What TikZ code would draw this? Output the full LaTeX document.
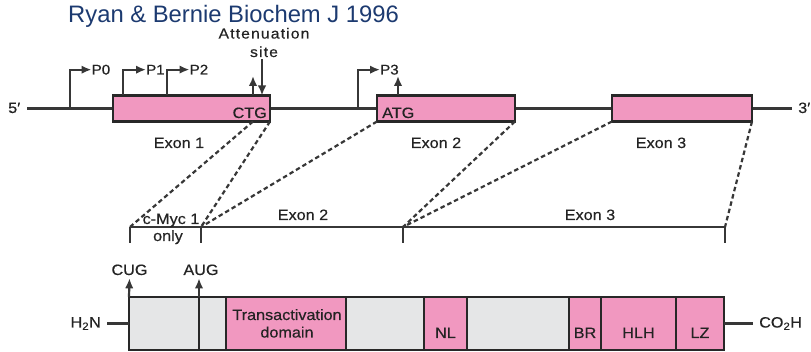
\documentclass[tikz,border=0pt]{standalone}
\usepackage{fontspec}
\setmainfont{Liberation Sans}
\newfontfamily\dfont{Liberation Sans}[FakeStretch=1.08,FakeBold=0.4]
\newfontfamily\afont{Liberation Sans}[FakeStretch=1.08,LetterSpace=8,FakeBold=0.4]
\usetikzlibrary{arrows.meta}
\definecolor{exonpink}{RGB}{241,152,192}
\definecolor{protgray}{RGB}{229,230,231}
\definecolor{outl}{RGB}{40,40,40}
\definecolor{linec}{RGB}{55,55,55}
\definecolor{txt}{RGB}{35,35,35}
\definecolor{titleblue}{RGB}{28,58,112}
\tikzset{
  exonbox/.style={draw=outl, line width=2.4pt, fill=exonpink, minimum height=26pt, inner sep=0pt, outer sep=0pt},
  seg/.style={draw=outl, line width=2.2pt, minimum height=53pt, inner sep=0pt, outer sep=0pt},
  pinkseg/.style={seg, fill=exonpink},
  grayseg/.style={seg, fill=protgray},
  lbl/.style={font=\dfont\fontsize{15}{17}\selectfont, text=txt, inner sep=0pt, anchor=base},
  plbl/.style={font=\dfont\fontsize{14}{15}\selectfont, text=txt, inner sep=0pt, anchor=base west},
  arr/.style={line width=2.2pt, draw=linec, -{Latex[length=10pt,width=8.5pt]}},
  dashln/.style={line width=2.2pt, draw=linec, dash pattern=on 4.5pt off 3pt},
  mainln/.style={line width=2.4pt, draw=linec},
}
\begin{document}
\begin{tikzpicture}[x=1pt,y=-1pt]
\useasboundingbox (0,0) rectangle (811,352);

% title
\node[font=\fontsize{23.8}{28}\selectfont, text=titleblue, inner sep=0pt, anchor=base west] (title) at (68,23) {Ryan \& Bernie Biochem J 1996};

% DNA line
\coordinate (dnaL) at (27,108.5);
\coordinate (dnaR) at (792,108.5);
\draw[mainln] (dnaL) -- (dnaR);
\node[lbl, anchor=base west] (five) at (8,113) {5′};
\node[lbl, anchor=base west] (three) at (798,113) {3′};

% exons
\node[exonbox, minimum width=157pt] (exon1) at (191.5,108.5) {};
\node[exonbox, minimum width=138pt] (exon2) at (446,108.5) {};
\node[exonbox, minimum width=140pt] (exon3) at (682,108.5) {};
\node[lbl, anchor=base east] (ctg) at (267,118) {CTG};
\node[lbl, anchor=base west] (atg) at (382,118) {ATG};
\node[lbl] (ex1lbl) at (179,148) {Exon 1};
\node[lbl] (ex2lbl) at (436,148) {Exon 2};
\node[lbl] (ex3lbl) at (661,148) {Exon 3};

% promoters
\node[plbl] (p0) at (91.5,74.5) {P0};
\node[plbl] (p1) at (146,74.5) {P1};
\node[plbl] (p2) at (189.5,74.5) {P2};
\node[plbl] (p3) at (380,74.5) {P3};
\coordinate (p0base) at (70,108.5);
\coordinate (p1base) at (123,95.5);
\coordinate (p2base) at (167,95.5);
\coordinate (p3base) at (358,108.5);
\draw[arr] (p0base) |- (p0.west);
\draw[arr] (p1base) |- (p1.west);
\draw[arr] (p2base) |- (p2.west);
\draw[arr] (p3base) |- (p3.west);

% attenuation site
\node[font=\afont\fontsize{14.5}{16}\selectfont, text=txt, inner sep=0pt, anchor=base] (att1) at (264,38.5) {Attenuation};
\node[font=\afont\fontsize{14.5}{16}\selectfont, text=txt, inner sep=0pt, anchor=base] (att2) at (264,57) {site};
\coordinate (attTop) at (262,59.5);
\coordinate (attBot) at (262,95.5);
\draw[arr] (attTop) -- (attBot);
\coordinate (ctgBot) at (253,95.5);
\coordinate (ctgTop) at (253,76);
\draw[arr] (ctgBot) -- (ctgTop);
\coordinate (atgBot) at (398,95.5);
\coordinate (atgTop) at (398,76);
\draw[arr] (atgBot) -- (atgTop);

% bracket
\coordinate (b0) at (130,227);
\coordinate (b1) at (201,227);
\coordinate (b2) at (403,227);
\coordinate (b3) at (725,227);
\draw[mainln] (b0) -- (b3);
\foreach \b in {b0,b1,b2,b3} \draw[mainln] (\b) -- ++(0,16);
\node[lbl] (cmyc) at (171,224) {c-Myc 1};
\node[lbl] (only) at (168,241) {only};
\node[lbl] (bex2) at (303,220) {Exon 2};
\node[lbl] (bex3) at (590,220) {Exon 3};

% dashed projections
\draw[dashln] ([xshift=-17pt]exon1.south east) -- (b0);
\draw[dashln] (exon1.south east) -- (b1);
\draw[dashln] (exon2.south west) -- (b1);
\draw[dashln] (exon2.south east) -- (b2);
\draw[dashln] (exon3.south west) -- (b2);
\draw[dashln] (exon3.south east) -- (b3);

% protein
\node[grayseg, minimum width=70pt] (g1a) at (164,323.5) {};
\node[grayseg, minimum width=27pt] (g1b) at (212.5,323.5) {};
\node[pinkseg, minimum width=120pt] (ta) at (286,323.5) {};
\node[grayseg, minimum width=78pt] (g2) at (385,323.5) {};
\node[pinkseg, minimum width=43pt] (nl) at (445.5,323.5) {};
\node[grayseg, minimum width=102pt] (g3) at (518,323.5) {};
\node[pinkseg, minimum width=32pt] (br) at (585,323.5) {};
\node[pinkseg, minimum width=75pt] (hlh) at (638.5,323.5) {};
\node[pinkseg, minimum width=48pt] (lz) at (700,323.5) {};

\node[lbl] (tatext) at (287,320) {Transactivation};
\node[lbl] (dotext) at (287,337.5) {domain};
\node[lbl] (nltext) at (445.5,338) {NL};
\node[lbl] (brtext) at (585,338) {BR};
\node[lbl] (hlhtext) at (638.5,338) {HLH};
\node[lbl] (lztext) at (700,338) {LZ};

% start codons
\node[lbl] (cug) at (129.5,275) {CUG};
\node[lbl] (aug) at (201,275) {AUG};
\draw[arr] (g1a.north west) -- ([yshift=-3pt]cug.south);
\draw[arr] (g1a.north east) -- ([yshift=-3pt]aug.south -| g1a.north east);

% termini
\node[lbl, anchor=east] (h2n) at (101,323.5) {H\textsubscript{2}N};
\node[lbl, anchor=west] (co2h) at (759,323.5) {CO\textsubscript{2}H};
\draw[mainln] ([xshift=6pt]h2n.east) -- (g1a.west);
\draw[mainln] (lz.east) -- ([xshift=-6pt]co2h.west);
\end{tikzpicture}
\end{document}
